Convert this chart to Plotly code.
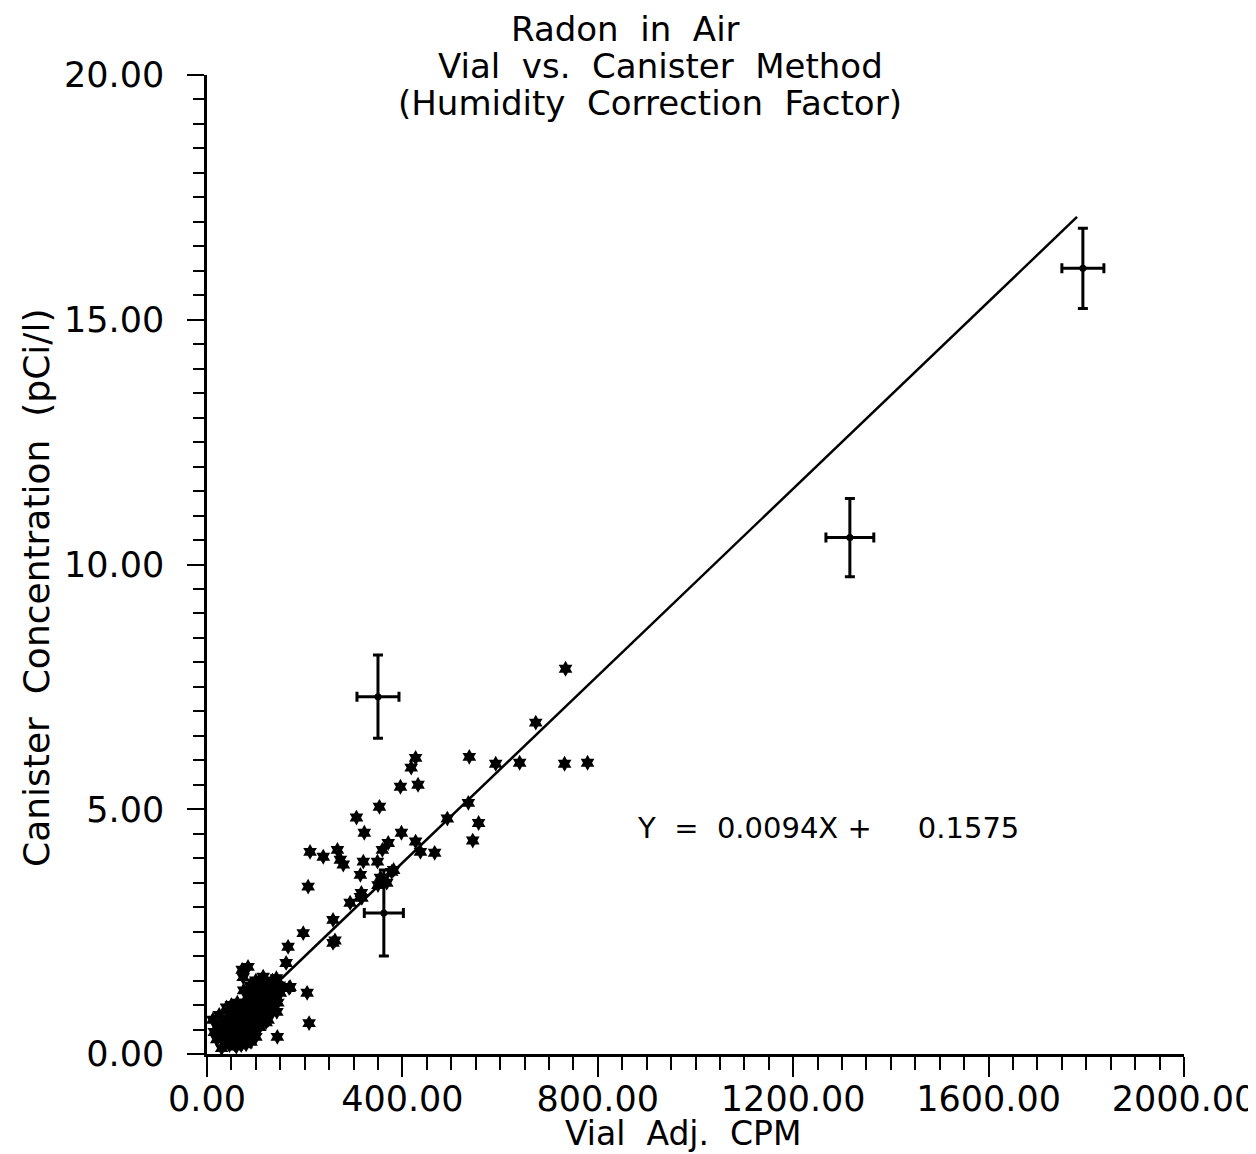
import plotly.graph_objects as go

# ---- data ----
star_x = [734, 673, 537, 591, 640, 732, 779, 427, 418, 396, 432, 353, 535, 492, 556, 544,
          306, 322, 398, 371, 359, 427, 437, 466, 211, 238, 267, 273, 279, 320, 349, 314,
          207, 355, 382, 316, 293, 314, 258, 197, 258, 262, 166, 162, 168, 205, 209, 144,
          72, 84, 74, 143, 170, 350, 368, 317, 378]
star_y = [7.87, 6.77, 6.07, 5.93, 5.95, 5.93, 5.95, 6.05, 5.85, 5.46, 5.50, 5.05, 5.13, 4.81, 4.72, 4.36,
          4.83, 4.52, 4.52, 4.31, 4.17, 4.34, 4.13, 4.11, 4.13, 4.03, 4.17, 3.97, 3.87, 3.93, 3.93, 3.66,
          3.42, 3.60, 3.76, 3.29, 3.09, 3.21, 2.74, 2.47, 2.27, 2.32, 2.19, 1.86, 1.35, 1.25, 0.63, 0.35,
          1.72, 1.78, 1.57, 0.86, 1.37, 3.45, 3.50, 3.19, 3.72]

cluster_x = [22, 28, 32, 36, 38, 42, 44, 46, 48, 50, 52, 54, 56, 58, 60, 61, 63, 65, 66, 68,
             70, 71, 73, 75, 76, 78, 80, 81, 83, 85, 86, 88, 90, 91, 93, 95, 96, 98, 100, 101,
             103, 105, 106, 108, 110, 111, 113, 115, 116, 118, 120, 121, 123, 125, 126, 128, 130, 132, 134, 136,
             138, 140, 142, 145, 148, 150, 35, 55, 62, 85, 95, 105, 70, 90, 110, 125, 60, 80, 100, 45,
             20, 15, 25, 40, 50, 75, 88, 100, 115, 12, 30, 130]
cluster_y = [0.55, 0.40, 0.30, 0.50, 0.22, 0.35, 0.60, 0.18, 0.45, 0.28, 0.70, 0.38, 0.20, 0.55, 0.85, 0.32, 0.62, 0.45, 0.25, 0.75,
             0.50, 0.95, 0.35, 0.65, 0.82, 0.48, 1.05, 0.30, 0.70, 0.55, 0.90, 0.40, 0.78, 1.10, 0.60, 0.95, 0.45, 0.80, 1.15, 0.62,
             0.98, 0.75, 1.25, 0.55, 0.90, 1.20, 1.05, 0.72, 1.35, 0.95, 1.15, 0.65, 1.40, 1.02, 1.25, 0.85, 1.30, 1.10, 1.50, 0.95,
             1.35, 1.20, 1.55, 1.05, 1.40, 1.25, 0.65, 0.90, 1.05, 1.20, 1.30, 1.45, 0.18, 0.25, 0.62, 0.70, 0.15, 0.20, 0.35, 0.80,
             0.30, 0.45, 0.80, 0.95, 1.00, 1.30, 1.40, 1.50, 1.58, 0.70, 0.12, 1.00]

err_x = [350, 1316, 1793, 362]
err_y = [7.30, 10.55, 16.05, 2.88]
err_dx = [43, 49, 43, 40]
err_dy = [0.85, 0.80, 0.82, 0.88]

fit_x = [143, 1781]
fit_y = [1.45, 17.10]

NB = "\u00a0"
title_lines = ["Radon" + NB * 2 + "in" + NB * 2 + "Air",
               "Vial" + NB * 2 + "vs." + NB * 2 + "Canister" + NB * 2 + "Method",
               "(Humidity" + NB * 2 + "Correction" + NB * 2 + "Factor)"]
equation = "Y" + NB * 2 + "=" + NB * 2 + "0.0094X" + NB + "+" + NB * 5 + "0.1575"
x_title = "Vial" + NB * 2 + "Adj." + NB * 2 + "CPM"
y_title = "Canister" + NB * 2 + "Concentration" + NB * 2 + "(pCi/l)"

FONT = "DejaVu Sans"

# page has an 8px body margin: figure is sized/placed so the plot area lands
# at x 207..1184, y 75..1054 of the 1256x1154 window
W, H = 1248, 1146
ML, MR, MT, MB = 199, 72, 67, 100

fig = go.Figure()
fig.add_trace(go.Scatter(x=fit_x, y=fit_y, mode="lines",
                         line=dict(color="black", width=2.5), showlegend=False))
fig.add_trace(go.Scatter(x=cluster_x + star_x, y=cluster_y + star_y, mode="markers",
                         marker=dict(symbol="hexagram", size=12, color="black",
                                     line=dict(width=0)),
                         showlegend=False))
fig.add_trace(go.Scatter(x=err_x, y=err_y, mode="markers",
                         marker=dict(symbol="circle", size=7, color="black"),
                         error_x=dict(type="data", array=err_dx, color="black", thickness=3, width=5),
                         error_y=dict(type="data", array=err_dy, color="black", thickness=3, width=5),
                         showlegend=False))

pw = W - ML - MR
ph = H - MT - MB


def paper_x(px):
    return (px - 8 - ML) / pw


def paper_y(py):
    return (H - MB - (py - 8)) / ph


title_pos = [(625, 29), (660, 66), (650, 103)]
for txt, (px, py) in zip(title_lines, title_pos):
    fig.add_annotation(text=txt, xref="paper", yref="paper",
                       x=paper_x(px), y=paper_y(py),
                       xanchor="center", yanchor="middle", showarrow=False,
                       borderpad=0,
                       font=dict(family=FONT, size=34, color="black"))

fig.add_annotation(text=equation, x=876, y=4.62, xref="x", yref="y",
                   xanchor="left", yanchor="middle", showarrow=False,
                   font=dict(family=FONT, size=29, color="black"))

# axis titles
fig.add_annotation(text=x_title, xref="paper", yref="paper",
                   x=paper_x(683), y=paper_y(1133), xanchor="center", yanchor="middle",
                   showarrow=False, font=dict(family=FONT, size=33, color="black"))
fig.add_annotation(text=y_title, xref="paper", yref="paper",
                   x=paper_x(36), y=paper_y(588), xanchor="center", yanchor="middle",
                   textangle=-90, showarrow=False,
                   font=dict(family=FONT, size=36, color="black"))

fig.update_xaxes(range=[0, 2000], dtick=400, tick0=0, tickformat=".2f",
                 ticks="outside", ticklen=20, tickwidth=2, tickcolor="black",
                 minor=dict(dtick=50, ticks="outside", ticklen=13, tickwidth=2, tickcolor="black"),
                 showline=True, linecolor="black", linewidth=2.5,
                 showgrid=False, zeroline=False, automargin=False,
                 ticklabelstandoff=-8, ticklabeloverflow="allow",
                 tickfont=dict(family=FONT, size=35, color="black"))
fig.update_yaxes(range=[0, 20], dtick=5, tick0=0, tickformat=".2f",
                 ticks="outside", ticklen=17, tickwidth=2, tickcolor="black",
                 minor=dict(dtick=0.5, ticks="outside", ticklen=11, tickwidth=2, tickcolor="black"),
                 showline=True, linecolor="black", linewidth=2.5,
                 showgrid=False, zeroline=False, automargin=False,
                 ticklabelstandoff=16, ticklabeloverflow="allow",
                 tickfont=dict(family=FONT, size=35, color="black"))

fig.update_layout(width=W, height=H,
                  margin=dict(l=ML, r=MR, t=MT, b=MB),
                  paper_bgcolor="white", plot_bgcolor="white",
                  font=dict(family=FONT, color="black"))

fig.write_html("out.html")
